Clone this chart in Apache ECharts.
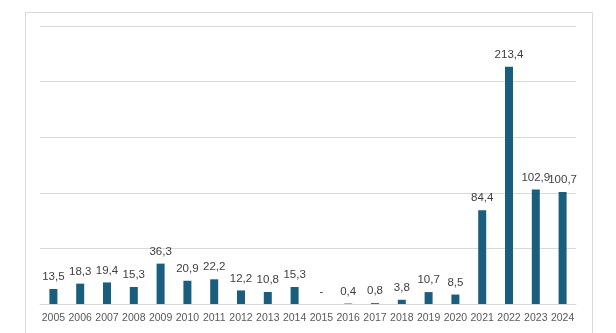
<!DOCTYPE html>
<html>
<head>
<meta charset="utf-8">
<script src="https://cdn.jsdelivr.net/npm/echarts@6/dist/echarts.min.js"></script>
<style>html,body{margin:0;padding:0;background:#fff}#c{width:616px;height:333px}</style>
</head>
<body>
<div id="c"></div>
<script>
const years = ['2005','2006','2007','2008','2009','2010','2011','2012','2013','2014','2015','2016','2017','2018','2019','2020','2021','2022','2023','2024'];
const values = [13.5,18.3,19.4,15.3,36.3,20.9,22.2,12.2,10.8,15.3,0,0.4,0.8,3.8,10.7,8.5,84.4,213.4,102.9,100.7];

const chart = echarts.init(document.getElementById('c'));
chart.setOption({
  animation: false,
  graphic: [{
    type: 'rect', silent: true,
    shape: {x: 25.5, y: 12.5, width: 567, height: 340},
    style: {fill: 'none', stroke: '#d9d9d9', lineWidth: 1}
  }],
  grid: {left: 40, right: 40, top: 26, bottom: 29, containLabel: false},
  xAxis: {
    type: 'category', data: years,
    axisLine: {show: true, lineStyle: {color: '#d9d9d9'}},
    axisTick: {show: false},
    axisLabel: {color: '#595959', fontSize: 10.5, fontFamily: 'Liberation Sans, Arial', margin: 9, interval: 0}
  },
  yAxis: {
    type: 'value', min: 0, max: 250, interval: 50,
    axisLabel: {show: false}, axisLine: {show: false}, axisTick: {show: false},
    splitLine: {lineStyle: {color: '#d9d9d9'}}
  },
  series: [{
    type: 'bar', data: values, barWidth: 8,
    itemStyle: {color: '#1a5e7e'},
    label: {
      show: true, position: 'top', distance: 6,
      color: '#404040', fontSize: 11.5, fontFamily: 'Liberation Sans, Arial',
      formatter: p => p.value === 0 ? '-' : p.value.toFixed(1).replace('.', ',')
    }
  }]
});
</script>
</body>
</html>
